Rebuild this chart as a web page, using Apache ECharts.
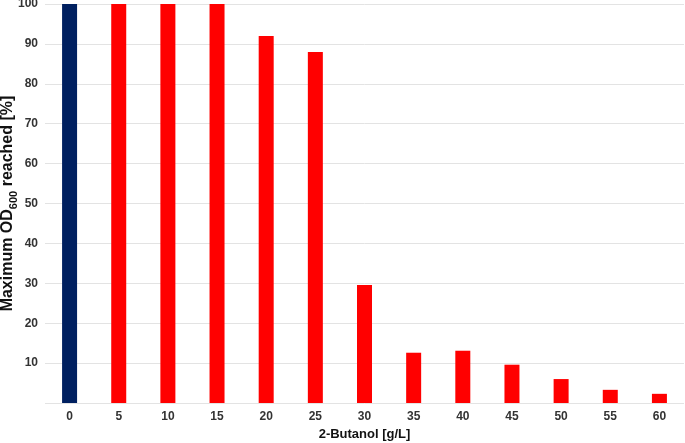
<!DOCTYPE html>
<html><head><meta charset="utf-8">
<script src="https://cdn.jsdelivr.net/npm/echarts@6/dist/echarts.min.js"></script>
<style>html,body{margin:0;padding:0;background:#fff}#c{width:685px;height:443px}</style>
</head><body><div id="c"></div>
<script>
const categories = ['0','5','10','15','20','25','30','35','40','45','50','55','60'];
const values = [100,100,100,100,92,88,29.6,12.6,13.1,9.6,6.0,3.3,2.3];
const barColors = ['#002060','#FF0000','#FF0000','#FF0000','#FF0000','#FF0000','#FF0000','#FF0000','#FF0000','#FF0000','#FF0000','#FF0000','#FF0000'];
const yTicks = [0,10,20,30,40,50,60,70,80,90,100];

const chart = echarts.init(document.getElementById('c'), null, {renderer:'canvas'});
const font = 'Liberation Sans, Arial, sans-serif';
chart.setOption({
  animation:false,
  grid:{left:45, right:1, top:4, bottom:40, containLabel:false, outerBoundsMode:'none'},
  xAxis:{
    type:'category', data:categories, boundaryGap:true,
    name:'2-Butanol [g/L]', nameLocation:'middle', nameGap:25,
    nameTextStyle:{fontFamily:font, fontWeight:'bold', fontSize:13, color:'#111'},
    axisLine:{show:false}, axisTick:{show:false},
    axisLabel:{fontFamily:font, fontWeight:'bold', fontSize:12, color:'#333', margin:8}
  },
  yAxis:{
    type:'value', min:yTicks[0], max:yTicks[yTicks.length-1], interval:10,
    name:'{a|Maximum OD}{s|600}{a| reached [%]}', nameLocation:'middle', nameGap:29, nameRotate:90,
    nameMoveOverlap:false,
    nameTextStyle:{rich:{
      a:{fontFamily:font, fontWeight:'bold', fontSize:16, color:'#111', lineHeight:18, verticalAlign:'bottom'},
      s:{fontFamily:font, fontWeight:'bold', fontSize:11, color:'#111', lineHeight:18, verticalAlign:'bottom', padding:[0,0,-3,0]}
    }},
    axisLine:{show:false}, axisTick:{show:false},
    axisLabel:{fontFamily:font, fontWeight:'bold', fontSize:12, color:'#333', margin:7,
      formatter:v=> v===0 ? '' : String(v)},
    splitLine:{lineStyle:{color:'#e3e3e3', width:1}}
  },
  series:[{
    type:'bar', data:values.map((v,i)=>({value:v, itemStyle:{color:barColors[i]}})),
    barWidth:15
  }]
});
</script></body></html>
